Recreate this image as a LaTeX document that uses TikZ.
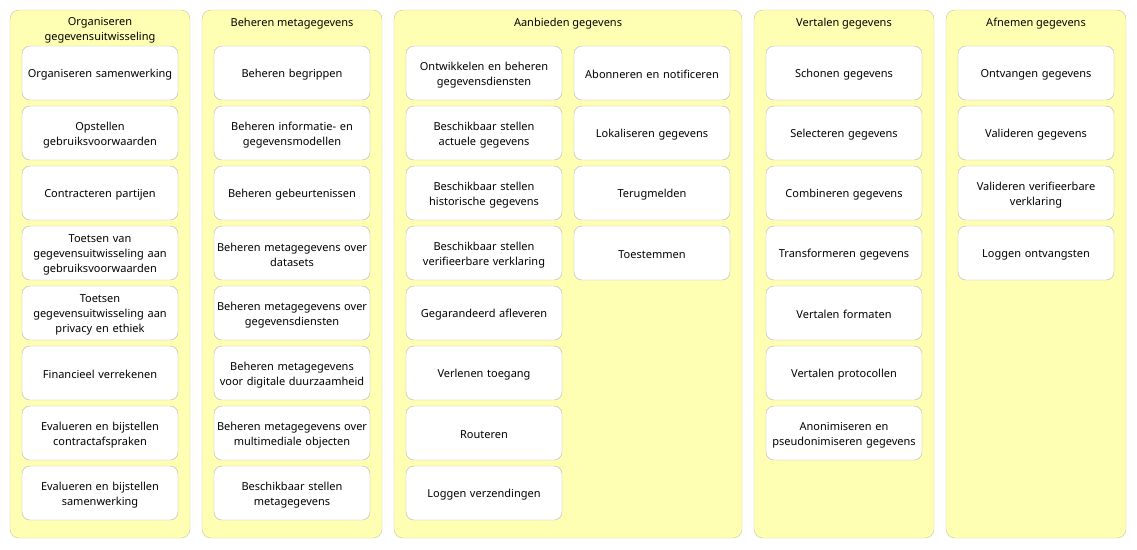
\documentclass[tikz,border=0pt]{standalone}
\usepackage{fontspec}
\setmainfont{Noto Sans}
\usetikzlibrary{positioning}

\definecolor{laneFill}{HTML}{FFFFB4}
\definecolor{laneLine}{HTML}{C4C49A}
\definecolor{boxLine}{HTML}{B4B4B4}

\tikzset{
  lane/.style={draw=laneLine, fill=laneFill, rounded corners=9pt, minimum width=180pt, minimum height=528pt, inner sep=0pt},
  lanetitle/.style={anchor=north, align=center, inner sep=0pt, font=\fontsize{11}{15}\selectfont},
  func/.style={draw=boxLine, fill=white, rounded corners=8pt, minimum width=156pt, minimum height=54pt, text width=150pt, text height=11.8pt, align=center, inner sep=0pt, font=\fontsize{11}{15}\selectfont}
}

\begin{document}
\begin{tikzpicture}[x=1pt, y=-1pt]
    \useasboundingbox (0,0) rectangle (1137,549);

    % swimlanes
    \node[lane] (org) at (100,274) {};
    \node[lane] (meta) at (292,274) {};
    \node[lane, minimum width=348pt] (aanb) at (568,274) {};
    \node[lane] (vert) at (844,274) {};
    \node[lane] (afn) at (1036,274) {};

    \node[lanetitle] (orgT) at (100,17.5) {Organiseren\\gegevensuitwisseling};
    \node[lanetitle] (metaT) at (292,17.5) {Beheren metagegevens};
    \node[lanetitle] (aanbT) at (568,17.5) {Aanbieden gegevens};
    \node[lanetitle] (vertT) at (844,17.5) {Vertalen gegevens};
    \node[lanetitle] (afnT) at (1036,17.5) {Afnemen gegevens};

    % Organiseren gegevensuitwisseling
    \node[func] (org1) at (100,73) {Organiseren samenwerking};
    \node[func] (org2) at (100,133) {Opstellen\\gebruiksvoorwaarden};
    \node[func] (org3) at (100,193) {Contracteren partijen};
    \node[func] (org4) at (100,253) {Toetsen van\\gegevensuitwisseling aan\\gebruiksvoorwaarden};
    \node[func] (org5) at (100,313) {Toetsen\\gegevensuitwisseling aan\\privacy en ethiek};
    \node[func] (org6) at (100,373) {Financieel verrekenen};
    \node[func] (org7) at (100,433) {Evalueren en bijstellen\\contractafspraken};
    \node[func] (org8) at (100,493) {Evalueren en bijstellen\\samenwerking};

    % Beheren metagegevens
    \node[func] (meta1) at (292,73) {Beheren begrippen};
    \node[func] (meta2) at (292,133) {Beheren informatie- en\\gegevensmodellen};
    \node[func] (meta3) at (292,193) {Beheren gebeurtenissen};
    \node[func] (meta4) at (292,253) {Beheren metagegevens over\\datasets};
    \node[func] (meta5) at (292,313) {Beheren metagegevens over\\gegevensdiensten};
    \node[func] (meta6) at (292,373) {Beheren metagegevens\\voor digitale duurzaamheid};
    \node[func] (meta7) at (292,433) {Beheren metagegevens over\\multimediale objecten};
    \node[func] (meta8) at (292,493) {Beschikbaar stellen\\metagegevens};

    % Aanbieden gegevens
    \node[func] (aanb1) at (484,73) {Ontwikkelen en beheren\\gegevensdiensten};
    \node[func] (aanb2) at (484,133) {Beschikbaar stellen\\actuele gegevens};
    \node[func] (aanb3) at (484,193) {Beschikbaar stellen\\historische gegevens};
    \node[func] (aanb4) at (484,253) {Beschikbaar stellen\\verifieerbare verklaring};
    \node[func] (aanb5) at (484,313) {Gegarandeerd afleveren};
    \node[func] (aanb6) at (484,373) {Verlenen toegang};
    \node[func] (aanb7) at (484,433) {Routeren};
    \node[func] (aanb8) at (484,493) {Loggen verzendingen};
    \node[func] (aanb9) at (652,73) {Abonneren en notificeren};
    \node[func] (aanb10) at (652,133) {Lokaliseren gegevens};
    \node[func] (aanb11) at (652,193) {Terugmelden};
    \node[func] (aanb12) at (652,253) {Toestemmen};

    % Vertalen gegevens
    \node[func] (vert1) at (844,73) {Schonen gegevens};
    \node[func] (vert2) at (844,133) {Selecteren gegevens};
    \node[func] (vert3) at (844,193) {Combineren gegevens};
    \node[func] (vert4) at (844,253) {Transformeren gegevens};
    \node[func] (vert5) at (844,313) {Vertalen formaten};
    \node[func] (vert6) at (844,373) {Vertalen protocollen};
    \node[func] (vert7) at (844,433) {Anonimiseren en\\pseudonimiseren gegevens};

    % Afnemen gegevens
    \node[func] (afn1) at (1036,73) {Ontvangen gegevens};
    \node[func] (afn2) at (1036,133) {Valideren gegevens};
    \node[func] (afn3) at (1036,193) {Valideren verifieerbare\\verklaring};
    \node[func] (afn4) at (1036,253) {Loggen ontvangsten};
\end{tikzpicture}
\end{document}
